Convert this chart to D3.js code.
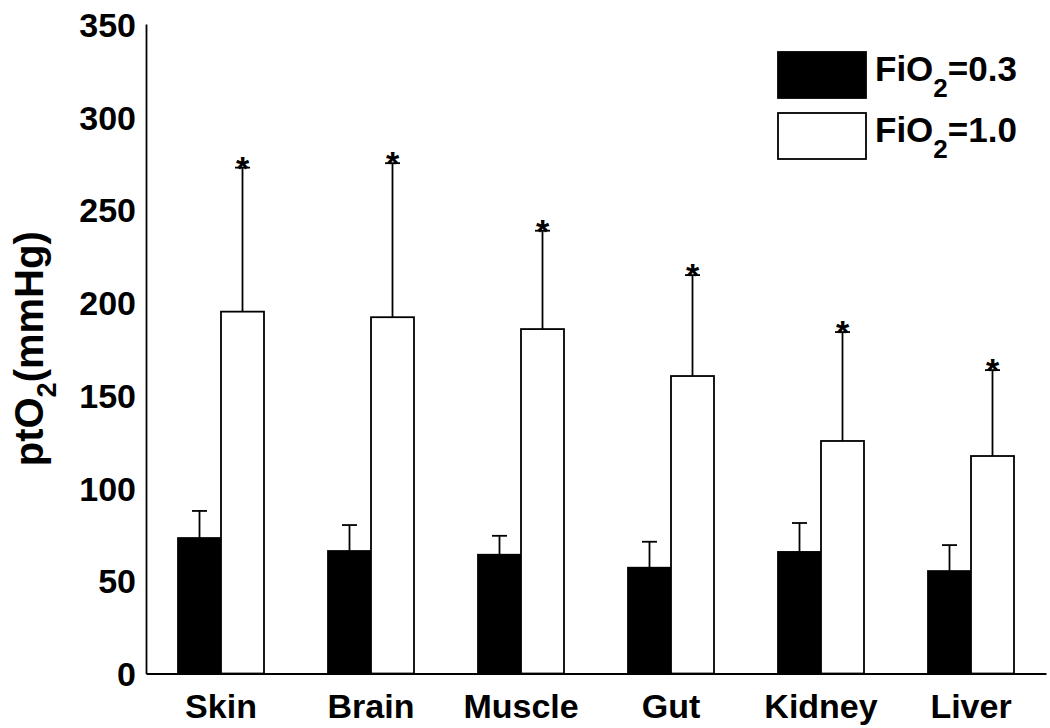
<!DOCTYPE html>
<html>
<head>
<meta charset="utf-8">
<script src="https://cdn.jsdelivr.net/npm/d3@7"></script>
<style>
  body { margin: 0; background: #fff; }
  svg { display: block; }
  text { font-family: "Liberation Sans", Arial, Helvetica, sans-serif; font-weight: bold; fill: #000; }
</style>
</head>
<body>
<script>
/* ---------------------------- */
/* DATA                         */
/* ---------------------------- */

const categories = ["Skin", "Brain", "Muscle", "Gut", "Kidney", "Liver"];
const fio03 = [73, 66, 64, 57, 65.5, 55.2];        // FiO2=0.3 means
const fio03Sd = [14.6, 14, 10.2, 14, 15.6, 14];    // upper error bars
const fio10 = [195, 192, 185.6, 160.3, 125.3, 117.2]; // FiO2=1.0 means
const fio10Sd = [77.6, 83, 53, 54.4, 58.7, 46.3];
const yTicks = [0, 50, 100, 150, 200, 250, 300, 350];
const seriesNames = ["0.3", "1.0"];

/* ---------------------------- */
/* CANVAS                       */
/* ---------------------------- */

const W = 1050, H = 728;
const margin = {top: 24, left: 146, right: 4, bottom: 54.5};

const svg = d3.select("body").append("svg")
    .attr("width", W)
    .attr("height", H);

// scales
const x0 = d3.scaleBand()
    .domain(categories)
    .range([margin.left, W - margin.right])
    .paddingInner(0.4267)
    .paddingOuter(0.4267 / 2);

const x1 = d3.scaleBand()
    .domain([0, 1])
    .range([0, x0.bandwidth()]);

const y = d3.scaleLinear()
    .domain([0, 350])
    .range([H - margin.bottom, margin.top]);

// rows for drawing
const rows = categories.map((c, i) => ({
    cat: c,
    vals: [
        {s: 0, v: fio03[i], sd: fio03Sd[i]},
        {s: 1, v: fio10[i], sd: fio10Sd[i]}
    ]
}));

/* ---------------------------- */
/* BARS + ERROR BARS            */
/* ---------------------------- */

const groups = svg.selectAll("g.grp")
    .data(rows)
    .enter()
    .append("g")
        .attr("class", "grp")
        .attr("transform", d => "translate(" + x0(d.cat) + ",0)");

// error bars first so bar outline covers line start
const err = groups.selectAll("g.err")
    .data(d => d.vals)
    .enter()
    .append("g")
        .attr("class", "err");

err.append("line")
    .attr("x1", d => x1(d.s) + x1.bandwidth() / 2)
    .attr("x2", d => x1(d.s) + x1.bandwidth() / 2)
    .attr("y1", d => y(d.v))
    .attr("y2", d => y(d.v + d.sd))
    .attr("stroke", "#000")
    .attr("stroke-width", 1.8);

err.append("line")
    .attr("x1", d => x1(d.s) + x1.bandwidth() / 2 - 7.5)
    .attr("x2", d => x1(d.s) + x1.bandwidth() / 2 + 7.5)
    .attr("y1", d => y(d.v + d.sd))
    .attr("y2", d => y(d.v + d.sd))
    .attr("stroke", "#000")
    .attr("stroke-width", 1.8);

// significance asterisks over FiO2=1.0
err.filter(d => d.s === 1)
    .append("text")
    .attr("x", d => x1(d.s) + x1.bandwidth() / 2)
    .attr("y", d => y(d.v + d.sd) + 12)
    .attr("text-anchor", "middle")
    .style("font-size", "34px")
    .text("*");

groups.selectAll("rect")
    .data(d => d.vals)
    .enter()
    .append("rect")
        .attr("x", d => x1(d.s))
        .attr("y", d => y(d.v))
        .attr("width", x1.bandwidth())
        .attr("height", d => y(0) - y(d.v))
        .attr("fill", d => d.s === 0 ? "#000" : "#fff")
        .attr("stroke", "#000")
        .attr("stroke-width", 1.8);

/* ---------------------------- */
/* AXES                         */
/* ---------------------------- */

const yAxis = svg.append("g")
    .attr("transform", "translate(" + margin.left + ",0)")
    .call(d3.axisLeft(y).tickValues(yTicks).tickSize(0).tickPadding(10));
yAxis.select(".domain").attr("stroke", "#000").attr("stroke-width", 1.8);
yAxis.selectAll("text")
    .attr("dy", "0.36em")
    .style("font-size", "34px")
    .style("font-family", "'Liberation Sans', Arial, sans-serif")
    .style("font-weight", "bold");

const xAxis = svg.append("g")
    .attr("transform", "translate(0," + y(0) + ")")
    .call(d3.axisBottom(x0).tickSize(0).tickPadding(44).tickSizeOuter(0));
xAxis.select(".domain").attr("stroke", "#000").attr("stroke-width", 1.8);
xAxis.selectAll("text")
    .attr("dy", 0)
    .style("font-size", "34px")
    .style("font-family", "'Liberation Sans', Arial, sans-serif")
    .style("font-weight", "bold");

// y title
const yTitle = svg.append("text")
    .attr("transform", "translate(43," + (y(0) + y(350)) / 2 + ") rotate(-90)")
    .attr("text-anchor", "middle")
    .style("font-size", "40px");
yTitle.append("tspan").text("ptO");
yTitle.append("tspan").attr("dy", 13).style("font-size", "27px").text("2");
yTitle.append("tspan").attr("dy", -13).text("(mmHg)");

/* ---------------------------- */
/* LEGEND                       */
/* ---------------------------- */

const legend = svg.selectAll("g.leg")
    .data(seriesNames)
    .enter()
    .append("g")
        .attr("class", "leg")
        .attr("transform", (d, i) => "translate(778," + (52 + i * 61) + ")");

legend.append("rect")
    .attr("width", 88)
    .attr("height", 46)
    .attr("fill", (d, i) => i === 0 ? "#000" : "#fff")
    .attr("stroke", "#000")
    .attr("stroke-width", 1.8);

const legText = legend.append("text")
    .attr("x", 97)
    .attr("y", 29)
    .style("font-size", "35px");
legText.append("tspan").text("FiO");
legText.append("tspan").attr("dy", 16).style("font-size", "26px").text("2");
legText.append("tspan").attr("dy", -16).text(d => "=" + d);
</script>
</body>
</html>
